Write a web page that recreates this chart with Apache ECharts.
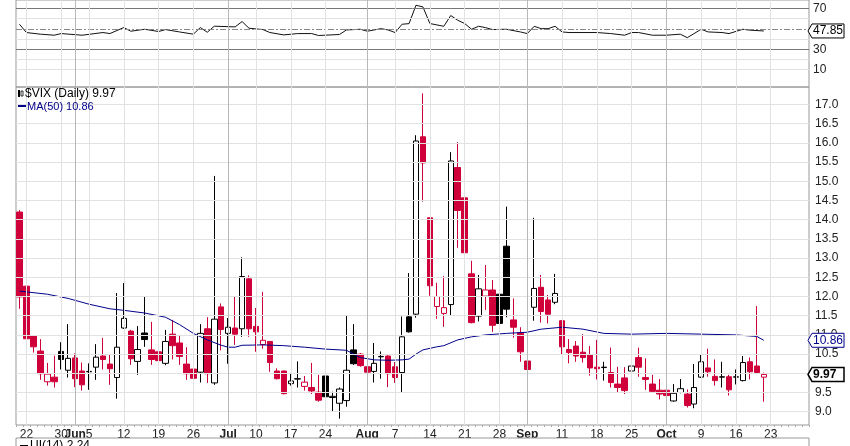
<!DOCTYPE html>
<html><head><meta charset="utf-8">
<script src="https://cdn.jsdelivr.net/npm/echarts@6/dist/echarts.min.js"></script>
<style>html,body{margin:0;padding:0;background:#fff}#c{width:850px;height:446px}</style>
</head><body><div id="c"></div>
<script>
const dates = ['05-19','05-22','05-23','05-24','05-25','05-26','05-30','05-31',
'06-01','06-02','06-05','06-06','06-07','06-08','06-09','06-12','06-13','06-14','06-15','06-16','06-19','06-20','06-21','06-22','06-23','06-26','06-27','06-28','06-29','06-30',
'07-03','07-05','07-06','07-07','07-10','07-11','07-12','07-13','07-14','07-17','07-18','07-19','07-20','07-21','07-24','07-25','07-26','07-27','07-28','07-31',
'08-01','08-02','08-03','08-04','08-07','08-08','08-09','08-10','08-11','08-14','08-15','08-16','08-17','08-18','08-21','08-22','08-23','08-24','08-25','08-28','08-29','08-30','08-31',
'09-01','09-05','09-06','09-07','09-08','09-11','09-12','09-13','09-14','09-15','09-18','09-19','09-20','09-21','09-22','09-25','09-26','09-27','09-28','09-29',
'10-02','10-03','10-04','10-05','10-06','10-09','10-10','10-11','10-12','10-13','10-16','10-17','10-18','10-19','10-20',
'10-23','10-24','10-25','10-26','10-27','10-30'];
const tickLabels = {'05-22':'22','05-30':'30','06-01':'Jun','06-05':'5','06-12':'12','06-19':'19','06-26':'26',
'07-03':'Jul','07-10':'10','07-17':'17','07-24':'24','08-01':'Aug','08-07':'7','08-14':'14','08-21':'21','08-28':'28',
'09-01':'Sep','09-11':'11','09-18':'18','09-25':'25','10-02':'Oct','10-09':'9','10-16':'16','10-23':'23'};
const monthTicks = ['06-01','07-03','08-01','09-01','10-02'];
const priceTicks = [9.0,9.5,10.0,10.5,11.0,11.5,12.0,12.5,13.0,13.5,14.0,14.5,15.0,15.5,16.0,16.5,17.0];
const rsiTicks = [10,30,70];
const prevClose0 = 14.66;
const opens = [14.20,12.27,10.97,10.58,9.78,9.90,10.57,10.08,10.40,10.06,
10.04,10.16,10.45,10.24,9.89,11.18,11.10,10.31,11.05,10.61,
10.56,10.26,11.02,10.79,10.24,10.11,10.03,11.16,9.75,11.73,
11.04,11.18,11.16,12.46,11.22,10.75,10.83,10.06,10.06,9.73,
9.85,9.66,9.63,9.51,9.93,9.37,9.22,9.29,10.61,10.50,
10.17,10.05,10.43,10.45,10.17,10.02,11.47,11.54,16.16,14.05,
11.74,11.56,11.79,15.36,14.57,12.59,11.49,12.01,12.17,12.06,
13.31,11.39,11.06,10.32,11.72,12.24,11.91,11.85,11.37,10.62,
10.71,10.55,10.49,10.16,10.15,10.02,9.72,9.88,10.06,10.41,
9.89,9.72,9.56,9.56,9.28,9.50,9.46,9.20,9.90,10.14,
9.92,9.90,9.91,9.90,9.81,10.30,10.19,9.90];
const closes = [11.99,10.90,10.69,9.99,9.98,9.78,10.36,10.39,9.86,9.70,
10.05,10.42,10.36,10.12,10.68,11.43,10.38,10.62,10.88,10.36,
10.33,10.83,10.72,10.44,9.99,9.87,11.04,9.99,11.41,11.14,
11.20,11.02,12.52,11.16,11.08,10.86,10.28,9.86,9.47,9.80,
9.86,9.77,9.54,9.30,9.39,9.40,9.59,10.08,10.25,10.20,
10.03,10.26,10.44,9.99,9.89,10.95,11.08,16.05,15.48,12.28,
12.00,11.71,15.53,14.24,13.14,11.32,12.20,12.17,11.25,11.30,
11.67,11.20,10.56,10.10,12.21,11.61,11.54,12.08,10.69,10.54,
10.45,10.41,10.14,10.12,10.16,9.76,9.63,9.55,10.19,10.16,
9.84,9.53,9.46,9.42,9.48,9.60,9.16,9.63,10.30,10.04,
9.81,9.91,9.57,9.91,10.28,10.04,10.02,9.97];
const highs = [14.25,12.51,10.97,10.89,10.27,10.46,10.81,11.28,10.52,10.28,
10.26,10.76,10.92,10.50,12.09,12.35,11.13,11.23,11.99,11.34,
10.58,11.13,11.39,11.00,10.68,10.40,11.28,11.46,15.14,11.82,
11.44,12.00,13.02,12.55,11.70,12.12,10.83,10.13,10.07,10.01,
10.31,9.93,10.27,9.96,9.96,9.52,9.63,11.49,11.28,10.53,
10.32,10.79,10.57,10.47,10.29,11.48,12.61,16.20,17.29,14.05,
12.36,12.53,15.76,16.02,14.71,12.93,12.56,12.82,12.43,12.08,
14.34,11.95,11.20,10.45,14.05,12.56,12.04,12.59,11.37,10.89,
10.84,11.02,10.71,10.87,10.30,10.67,10.17,10.16,11.17,10.67,
10.39,9.96,9.85,10.03,9.72,9.85,9.58,10.24,10.50,10.64,
10.36,10.30,9.96,10.10,10.45,10.41,11.75,10.02];
const lows = [11.68,10.87,10.54,9.83,9.68,9.63,10.10,9.89,9.64,9.55,
9.57,9.83,10.10,9.70,9.34,11.16,10.22,9.96,10.69,10.22,
9.97,10.21,10.36,10.22,9.83,9.65,9.76,9.75,9.70,10.60,
10.25,10.74,10.95,10.95,10.56,10.64,10.04,9.84,9.45,9.68,
9.63,9.55,9.46,9.26,9.23,9.00,8.82,9.13,10.22,10.17,
9.91,9.76,9.86,9.64,9.75,9.50,11.06,11.45,14.47,12.02,
11.42,11.21,11.51,13.27,13.05,11.30,11.35,11.65,11.08,11.21,
11.46,10.93,10.30,9.98,11.37,11.32,11.30,11.80,10.48,10.26,
10.30,10.28,9.94,9.84,9.81,9.63,9.51,9.46,9.76,9.91,
9.57,9.51,9.32,9.40,9.26,9.48,9.11,9.09,9.88,9.91,
9.68,9.63,9.42,9.71,9.79,9.84,9.98,9.26];
// MA(50) read at sampled candles (index -> value)
const maIdx = [0,4,7,10,13,15,18,21,23,25,27,29,30,31,32,35,38,41,44,47,49,51,53,55,56,57,58,60,61,63,65,67,70,73,75,78,81,84,88,93,98,103,106,107];
const maVal = [12.14,12.06,11.95,11.80,11.68,11.64,11.57,11.46,11.27,11.04,10.87,10.73,10.68,10.68,10.73,10.74,10.72,10.68,10.63,10.60,10.41,10.35,10.34,10.35,10.37,10.50,10.61,10.69,10.72,10.87,10.95,11.00,11.04,11.07,11.15,11.20,11.15,11.04,11.02,11.04,11.02,11.00,10.96,10.86];
// RSI(14) read at sampled candles
const rsiIdx = [0,1,3,5,6,9,12,13,15,16,18,20,21,23,25,26,27,28,31,32,33,35,36,38,40,42,43,46,47,49,50,52,53,54,55,56,57,58,59,61,62,63,64,65,66,67,68,70,72,73,74,75,76,77,78,79,83,85,87,88,89,91,93,95,96,98,99,101,102,104,105,107];
const rsiVal = [54.4,46.3,44.7,43.7,45.3,43.7,46.3,45.3,51.2,47.6,49.5,47.3,49.2,46.9,44.7,51.2,46.6,52.5,51.8,57.0,50.5,49.2,46.3,44.0,45.3,45.3,43.4,44.4,48.8,49.5,47.6,50.1,48.8,46.3,54.4,55.0,72.9,71.3,55.1,52.4,62.9,58.3,55.1,49.5,52.4,51.1,49.2,49.5,46.9,45.3,52.4,50.1,50.1,52.4,46.9,46.3,46.3,45.3,43.7,46.3,46.3,43.7,43.7,44.7,41.3,49.5,46.9,46.3,45.3,49.5,48.6,47.85];

const RED='#d0003a', BLK='#000000', NAVY='#00008b';
const FONT='Liberation Sans';
const candles = opens.map((o,i)=>{
  const c=closes[i], prev = i===0?prevClose0:closes[i-1];
  const col = c>=prev?BLK:RED;
  const fill = c>o?'#ffffff':col;
  return {value:[o,c,Math.min(lows[i],o,c),Math.max(highs[i],o,c)],
    itemStyle:{color:fill,color0:fill,borderColor:col,borderColor0:col,borderWidth:1}};
});
const maData = dates.map(()=>null); maIdx.forEach((k,j)=>maData[k]=maVal[j]);
const rsiData = dates.map(()=>null); rsiIdx.forEach((k,j)=>rsiData[k]=rsiVal[j]);

const vLines = Object.keys(tickLabels).map(d=>({xAxis:d,lineStyle:{color:monthTicks.includes(d)?'#b8b8b8':'#e2e2e2',width:1,type:'solid'}}));
const priceH = priceTicks.map(v=>({yAxis:v,lineStyle:{color:'#e2e2e2',width:1,type:'solid'}}));
const rsiH = [10,20,40,60].map(v=>({yAxis:v,lineStyle:{color:'#e2e2e2',width:1,type:'solid'}}))
  .concat([30,70].map(v=>({yAxis:v,lineStyle:{color:'#777',width:1,type:'solid'}})))
  .concat([{yAxis:50,lineStyle:{color:'#888',width:1,type:[6,2,2,2]}}]);
const ml = (data)=>({silent:true,symbol:'none',label:{show:false},animation:false,data});

const chart = echarts.init(document.getElementById('c'));
chart.setOption({
  animation:false,
  grid:[{left:16,right:41,top:0,height:87,show:true,borderColor:'#999',borderWidth:1},
        {left:16,right:41,top:87,bottom:21,show:true,borderColor:'#999',borderWidth:1}],
  xAxis:[{type:'category',data:dates,gridIndex:0,boundaryGap:true,axisLine:{show:false},axisTick:{show:false},axisLabel:{show:false},splitLine:{show:false}},
         {type:'category',data:dates,gridIndex:1,boundaryGap:true,axisLine:{show:false},
          axisTick:{show:true,interval:0,length:2,lineStyle:{color:'#aaa'}},
          axisLabel:{interval:(i,v)=>v in tickLabels,formatter:v=>monthTicks.includes(v)?'{b|'+tickLabels[v]+'}':(tickLabels[v]||''),
            margin:4,fontFamily:FONT,fontSize:12,color:'#222',hideOverlap:false,rich:{b:{fontWeight:'bold',fontFamily:FONT,fontSize:12,color:'#222'}}},
          splitLine:{show:false}}],
  yAxis:[{type:'value',gridIndex:0,position:'right',min:-6.83,max:78.05,axisLine:{show:false},axisTick:{show:false},splitLine:{show:false},
          axisLabel:{customValues:rsiTicks,fontFamily:FONT,fontSize:12,color:'#222',margin:4}},
         {type:'value',gridIndex:1,position:'right',min:8.654,max:17.456,axisLine:{show:false},axisTick:{show:false},splitLine:{show:false},
          axisLabel:{customValues:priceTicks,formatter:v=>v.toFixed(1),fontFamily:FONT,fontSize:12,color:'#222',margin:6}}],
  series:[
    {type:'line',xAxisIndex:0,yAxisIndex:0,data:rsiData,connectNulls:true,showSymbol:false,lineStyle:{color:'#111',width:1},z:3,
      markLine:ml(rsiH.concat(vLines))},
    {type:'candlestick',xAxisIndex:1,yAxisIndex:1,data:candles,barWidth:6,z:3,
      markLine:ml(priceH.concat(vLines))},
    {type:'line',xAxisIndex:1,yAxisIndex:1,data:maData,connectNulls:true,showSymbol:false,lineStyle:{color:NAVY,width:1},z:4}
  ]
});

function tag(y,text,color,bold){
  const x=808;
  return [{type:'polygon',shape:{points:[[x,y],[x+4,y-7],[x+36,y-7],[x+36,y+7],[x+4,y+7]]},style:{fill:'#fff',stroke:color,lineWidth:bold?1.5:1},z:100},
    {type:'text',x:x+5,y:y-6,style:{text:text,fill:color,font:(bold?'bold ':'')+'12px '+FONT},z:101}];
}
const yMa = chart.convertToPixel({yAxisIndex:1},maVal[maVal.length-1]);
const yC = chart.convertToPixel({yAxisIndex:1},closes[closes.length-1]);
const yR = chart.convertToPixel({yAxisIndex:0},rsiVal[rsiVal.length-1]);
chart.setOption({graphic:[].concat(
  tag(yMa,maVal[maVal.length-1].toFixed(2),NAVY,false),
  tag(yC,closes[closes.length-1].toFixed(2),'#000',true),
  tag(yR,rsiVal[rsiVal.length-1].toFixed(2),'#000',false),
  [
   {type:'rect',shape:{x:18,y:90,width:2,height:7},style:{fill:'#000'},z:100},
   {type:'rect',shape:{x:21,y:91,width:2,height:5},style:{fill:'#fff',stroke:'#000',lineWidth:0.8},z:100},
   {type:'text',x:25,y:88,style:{text:'$VIX (Daily) '+closes[closes.length-1].toFixed(2),fill:'#000',font:'12px '+FONT},z:100},
   {type:'line',shape:{x1:18,y1:106,x2:26,y2:106},style:{stroke:NAVY,lineWidth:2},z:100},
   {type:'text',x:27,y:101,style:{text:'MA(50) '+maVal[maVal.length-1].toFixed(2),fill:NAVY,font:'11px '+FONT},z:100},
   {type:'rect',shape:{x:16,y:438,width:793,height:30},style:{fill:'#fff',stroke:'#999',lineWidth:1},z:100},
   {type:'line',shape:{x1:20,y1:446,x2:28,y2:446},style:{stroke:'#000',lineWidth:2},z:101},
   {type:'text',x:30,y:440,style:{text:'UI(14) 2.24',fill:'#000',font:'12px '+FONT},z:101}
  ])});
</script></body></html>
